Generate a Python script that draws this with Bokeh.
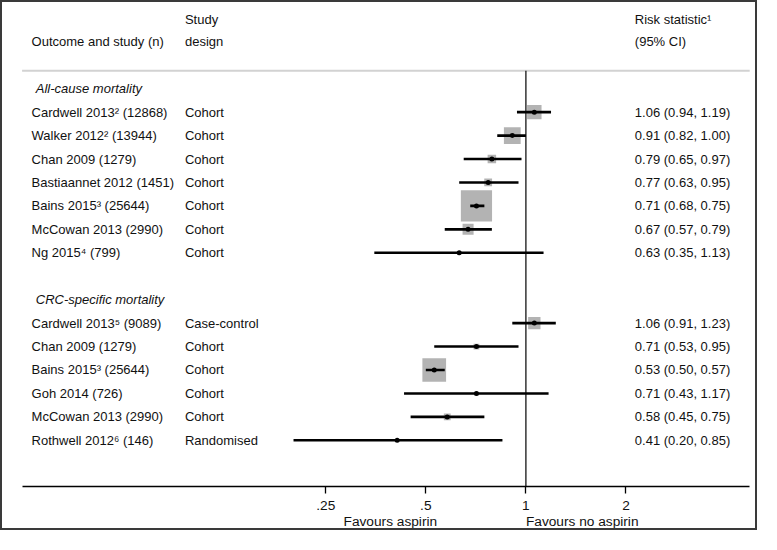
from bokeh.plotting import figure
from bokeh.models import (Range1d, LinearScale, FixedTicker, CustomJSTickFormatter,
                          LogAxis, ColumnDataSource)
from bokeh.core.properties import value
from bokeh.embed import file_html
from bokeh.resources import INLINE

# ---------------- data ----------------
section_titles = ["All-cause mortality", "CRC-specific mortality"]

allcause_studies = ["Cardwell 2013\u00b2 (12868)", "Walker 2012\u00b2 (13944)", "Chan 2009 (1279)",
                    "Bastiaannet 2012 (1451)", "Bains 2015\u00b3 (25644)", "McCowan 2013 (2990)",
                    "Ng 2015\u2074 (799)"]
allcause_design = ["Cohort", "Cohort", "Cohort", "Cohort", "Cohort", "Cohort", "Cohort"]
allcause_est = [1.06, 0.91, 0.79, 0.77, 0.71, 0.67, 0.63]
allcause_lo = [0.94, 0.82, 0.65, 0.63, 0.68, 0.57, 0.35]
allcause_hi = [1.19, 1.00, 0.97, 0.95, 0.75, 0.79, 1.13]
allcause_weight = [21.4, 28.9, 7.4, 6.25, 100.0, 12.5, 0.9]

crc_studies = ["Cardwell 2013\u2075 (9089)", "Chan 2009 (1279)", "Bains 2015\u00b3 (25644)",
               "Goh 2014 (726)", "McCowan 2013 (2990)", "Rothwell 2012\u2076 (146)"]
crc_design = ["Case-control", "Cohort", "Cohort", "Cohort", "Cohort", "Randomised"]
crc_est = [1.06, 0.71, 0.53, 0.71, 0.58, 0.41]
crc_lo = [0.91, 0.53, 0.50, 0.43, 0.45, 0.20]
crc_hi = [1.23, 0.95, 0.57, 1.17, 0.75, 0.85]
crc_weight = [15.7, 3.5, 57.7, 1.6, 4.8, 0.6]

tick_values = [0.25, 0.5, 1, 2]
tick_labels = [".25", ".5", "1", "2"]
null_value = 1.0
favours_labels = ["Favours aspirin", "Favours no aspirin"]
favours_at = [0.391, 1.477]
head_col1 = ["", "Outcome and study (n)"]
head_col2 = ["Study", "design"]
head_col3 = ["Risk statistic\u00b9", "(95% CI)"]

# ---------------- row layout ----------------
rows_y, names, designs, est, lo, hi, wts = [], [], [], [], [], [], []
sec_y = []
r = 0
for title, st, de, e, l, h, w in [
        (section_titles[0], allcause_studies, allcause_design, allcause_est, allcause_lo, allcause_hi, allcause_weight),
        (section_titles[1], crc_studies, crc_design, crc_est, crc_lo, crc_hi, crc_weight)]:
    sec_y.append(r)
    r += 1
    for i in range(len(st)):
        rows_y.append(r)
        names.append(st[i]); designs.append(de[i])
        est.append(e[i]); lo.append(l[i]); hi.append(h[i]); wts.append(w[i])
        r += 1
    r += 1

risk_txt = [f"{e:.2f} ({l:.2f}, {h:.2f})" for e, l, h in zip(est, lo, hi)]
box_size = [0.975 * 3.2 * (w ** 0.5) for w in wts]

src = ColumnDataSource(dict(y=rows_y, name=names, design=designs, est=est, lo=lo, hi=hi,
                            risk=risk_txt, size=box_size))

FONT_NAME = "Liberation Sans"
FONT = value(FONT_NAME)
FS = "13px"
FS_AX = "13.7px"
TXT = "#111111"

Y_BOTTOM = 16.97
Y_TOP = -3.677
SEP_Y = -0.766

p = figure(width=757, height=530, x_axis_type="log",
           x_range=Range1d(0.02665, 5.042), y_range=Range1d(Y_BOTTOM, Y_TOP),
           y_axis_location=None, output_backend="svg", toolbar_location=None,
           min_border=0, min_border_left=0, min_border_right=0, min_border_top=0,
           min_border_bottom=46)
p.extra_x_ranges = {"px": Range1d(2, 775)}
p.extra_x_scales = {"px": LinearScale()}
p.outline_line_color = None
p.xgrid.visible = False
p.ygrid.visible = False
p.background_fill_color = "white"
p.border_fill_color = "white"
p.styles = {"border": "2px solid #3a3a3a"}

# separator line and null line
p.segment(x0=[22], x1=[765], y0=[SEP_Y], y1=[SEP_Y], x_range_name="px",
          line_color="#d2d2d2", line_width=1.8)
p.segment(x0=[null_value], x1=[null_value], y0=[SEP_Y], y1=[Y_BOTTOM],
          line_color="black", line_width=1.2)

# boxes, CIs, points
p.scatter(x="est", y="y", size="size", marker="square", source=src,
          fill_color="#b3b3b3", line_color=None)
p.segment(x0="lo", x1="hi", y0="y", y1="y", source=src, line_color="black", line_width=2.6)
p.scatter(x="est", y="y", size=5, marker="circle", source=src,
          fill_color="black", line_color=None)

# text columns
p.text(x=31.7, y="y", text="name", source=src, x_range_name="px", text_font=FONT,
       text_font_size=FS, text_baseline="middle", text_align="left", text_color=TXT)
p.text(x=188.3, y="y", text="design", source=src, x_range_name="px", text_font=FONT,
       text_font_size=FS, text_baseline="middle", text_align="left", text_color=TXT)
p.text(x=647.7, y="y", text="risk", source=src, x_range_name="px", text_font=FONT,
       text_font_size=FS, text_baseline="middle", text_align="left", text_color=TXT)
p.text(x=[36, 36], y=sec_y, text=section_titles, x_range_name="px", text_font=FONT,
       text_font_size=FS, text_font_style="italic", text_baseline="middle",
       text_align="left", text_color=TXT)

head_y = [-2.96, -2.0]
p.text(x=[31.7, 31.7], y=head_y, text=head_col1, x_range_name="px", text_font=FONT,
       text_font_size=FS, text_baseline="middle", text_align="left", text_color=TXT)
p.text(x=[188.3, 188.3], y=head_y, text=head_col2, x_range_name="px", text_font=FONT,
       text_font_size=FS, text_baseline="middle", text_align="left", text_color=TXT)
p.text(x=[647.7, 647.7], y=head_y, text=head_col3, x_range_name="px", text_font=FONT,
       text_font_size=FS, text_baseline="middle", text_align="left", text_color=TXT)

# main axis
ax = p.xaxis[0]
ax.ticker = FixedTicker(ticks=tick_values)
ax.formatter = CustomJSTickFormatter(args=dict(vals=tick_values, labs=tick_labels), code="""
    for (let i = 0; i < vals.length; i++) { if (Math.abs(vals[i] - tick) < 1e-9) return labs[i]; }
    return '';
""")
ax.bounds = (0.03063, 4.689)
ax.axis_line_color = "black"
ax.axis_line_width = 1.3
ax.major_tick_line_color = "black"
ax.major_tick_line_width = 1.3
ax.major_tick_out = 7
ax.major_tick_in = 0
ax.minor_tick_line_color = None
ax.major_label_text_font = FONT_NAME
ax.major_label_text_font_size = FS_AX
ax.major_label_text_color = TXT
ax.major_label_standoff = 7

# second axis row carrying the "Favours" captions
ax2 = LogAxis(ticker=FixedTicker(ticks=favours_at),
              formatter=CustomJSTickFormatter(args=dict(vals=favours_at, labs=favours_labels), code="""
    for (let i = 0; i < vals.length; i++) { if (Math.abs(vals[i] - tick) < 1e-9) return labs[i]; }
    return '';
"""))
ax2.axis_line_color = None
ax2.major_tick_line_color = None
ax2.minor_tick_line_color = None
ax2.major_tick_out = 0
ax2.major_tick_in = 0
ax2.major_label_standoff = 1
ax2.major_label_text_font = FONT_NAME
ax2.major_label_text_font_size = FS_AX
ax2.major_label_text_color = TXT
p.add_layout(ax2, "below")

open("out.html", "w").write(file_html(p, INLINE))
